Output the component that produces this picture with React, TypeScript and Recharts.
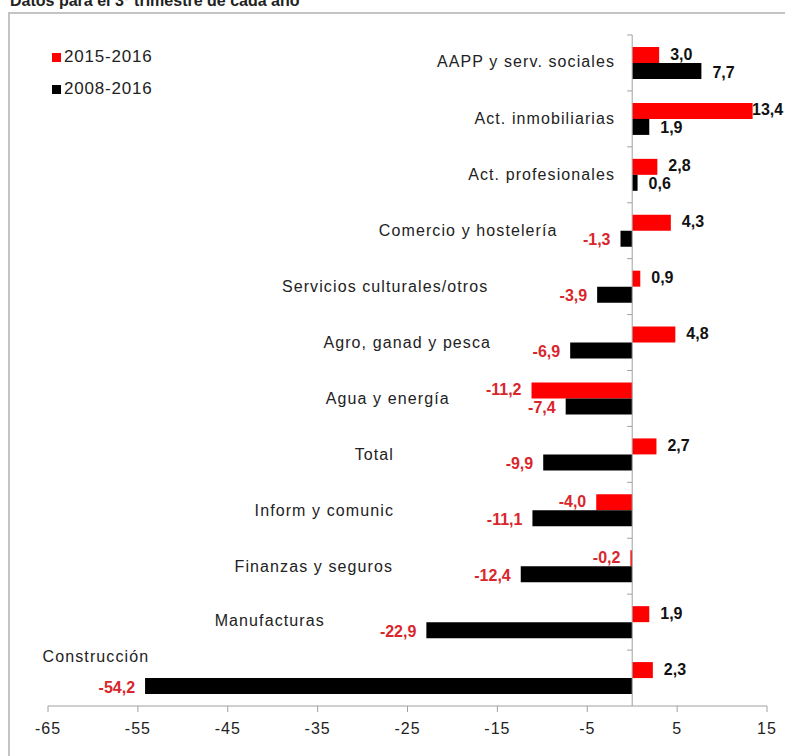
import React from "react";
import { Bar, BarChart, LabelList, Legend, ReferenceLine, XAxis, YAxis } from "recharts";

const CATEGORIES = [
  "AAPP y serv. sociales",
  "Act. inmobiliarias",
  "Act. profesionales",
  "Comercio y hostelería",
  "Servicios culturales/otros",
  "Agro, ganad y pesca",
  "Agua y energía",
  "Total",
  "Inform y comunic",
  "Finanzas y seguros",
  "Manufacturas",
  "Construcción",
];
const SERIES_NAMES = ["2015-2016", "2008-2016"];
const SERIES_2015 = [3.0, 13.4, 2.8, 4.3, 0.9, 4.8, -11.2, 2.7, -4.0, -0.2, 1.9, 2.3];
const SERIES_2008 = [7.7, 1.9, 0.6, -1.3, -3.9, -6.9, -7.4, -9.9, -11.1, -12.4, -22.9, -54.2];
const X_TICKS = [-65, -55, -45, -35, -25, -15, -5, 5, 15];

// where each category label sits (axis units for the anchor, px for the vertical nudge)
const LABEL_LAYOUT = [
  { at: -1.9, anchor: "end", dy: -1 },
  { at: -1.9, anchor: "end", dy: 0 },
  { at: -1.9, anchor: "end", dy: 0 },
  { at: -8.3, anchor: "end", dy: 0 },
  { at: -16.0, anchor: "end", dy: 0 },
  { at: -15.7, anchor: "end", dy: 0 },
  { at: -20.3, anchor: "end", dy: 0 },
  { at: -26.5, anchor: "end", dy: 0 },
  { at: -26.5, anchor: "end", dy: 0 },
  { at: -26.6, anchor: "end", dy: 0 },
  { at: -34.2, anchor: "end", dy: -2 },
  { at: -65.6, anchor: "start", dy: -22 },
];

const data = CATEGORIES.map((name, i) => ({
  name,
  v2015: SERIES_2015[i],
  v2008: SERIES_2008[i],
}));

const W = 785;
const H = 756;
const MARGIN = { top: 35, right: 18, bottom: 20, left: 0 };
const Y_AXIS_W = 48;
const X_AXIS_H = 30;
const PLOT_LEFT = MARGIN.left + Y_AXIS_W;
const PLOT_W = W - PLOT_LEFT - MARGIN.right;
const PLOT_H = H - MARGIN.top - MARGIN.bottom - X_AXIS_H;
const BAND = PLOT_H / CATEGORIES.length;
const X_MIN = -65;
const X_MAX = 15;
const toPx = (v: number) => PLOT_LEFT + ((v - X_MIN) / (X_MAX - X_MIN)) * PLOT_W;

const FONT = "'Liberation Sans', Arial, sans-serif";
const RED = "#ff0000";
const NEG_TEXT = "#d9262c";
const AXIS = "#a0a0a0";

const fmt = (v: number) => v.toFixed(1).replace(".", ",");

function CategoryTick(props: any) {
  const { y, payload, index } = props;
  const layout = LABEL_LAYOUT[index] ?? { at: -2, anchor: "end", dy: 0 };
  const zero = toPx(0);
  const top = y - BAND / 2;
  return (
    <g>
      <line x1={zero - 5} y1={top} x2={zero} y2={top} stroke={AXIS} />
      <text
        x={toPx(layout.at)}
        y={y + layout.dy}
        textAnchor={layout.anchor}
        dominantBaseline="central"
        fontFamily={FONT}
        fontSize={16}
        letterSpacing={1.1}
        fill="#222"
      >
        {payload.value}
      </text>
    </g>
  );
}

function valueLabel(shiftY: number) {
  return (props: any) => {
    const { x, y, width, height, value } = props;
    const v = Number(value);
    const a = Number(x);
    const b = Number(x) + Number(width);
    const cy = Number(y) + Number(height) / 2 + shiftY;
    const neg = v < 0;
    const end = neg ? Math.min(a, b) : Math.max(a, b);
    const tx = neg ? end - 10 : Math.min(end + 11, toPx(X_MAX) - 15);
    return (
      <text
        x={tx}
        y={cy}
        textAnchor={neg ? "end" : "start"}
        dominantBaseline="central"
        fontFamily={FONT}
        fontSize={16}
        fontWeight="bold"
        fill={neg ? NEG_TEXT : "#111"}
      >
        {fmt(v)}
      </text>
    );
  };
}

function LegendContent(props: any) {
  const { payload = [] } = props;
  const items = [...payload].sort(
    (p: any, q: any) => SERIES_NAMES.indexOf(p.value) - SERIES_NAMES.indexOf(q.value)
  );
  return (
    <div style={{ fontFamily: FONT, fontSize: 17, color: "#222", letterSpacing: 0.8 }}>
      {items.map((entry: any) => (
        <div key={entry.value} style={{ display: "flex", alignItems: "center", height: 32 }}>
          <span style={{ width: 9, height: 9, background: entry.color, marginRight: 3 }} />
          <span>{entry.value}</span>
        </div>
      ))}
    </div>
  );
}

export default function App() {
  return (
    <div
      style={{
        position: "absolute",
        left: 0,
        top: 0,
        width: W,
        height: H,
        overflow: "hidden",
        background: "#fff",
      }}
    >
      <div
        style={{
          position: "absolute",
          left: 10,
          top: -7,
          fontFamily: FONT,
          fontSize: 16,
          lineHeight: "16px",
          fontWeight: "bold",
          color: "#222",
          whiteSpace: "nowrap",
        }}
      >
        Datos para el 3º trimestre de cada año
      </div>
      <div
        style={{
          position: "absolute",
          left: 8,
          top: 12,
          width: 820,
          height: 820,
          border: "2px solid #c4c4c4",
        }}
      />
      <div style={{ position: "absolute", left: 0, top: 0 }}>
        <BarChart
          width={W}
          height={H}
          data={data}
          layout="vertical"
          margin={MARGIN}
          barSize={16}
          barGap={0}
        >
          <XAxis
            type="number"
            domain={[X_MIN, X_MAX]}
            ticks={X_TICKS}
            height={X_AXIS_H}
            stroke={AXIS}
            tickSize={6}
            tickMargin={11}
            tick={{ fill: "#222", fontSize: 16, fontFamily: FONT, letterSpacing: 1 }}
            allowDataOverflow
          />
          <YAxis
            type="category"
            dataKey="name"
            width={Y_AXIS_W}
            axisLine={false}
            tickLine={false}
            tick={<CategoryTick />}
            interval={0}
          />
          <ReferenceLine x={0} stroke={AXIS} />
          <Legend
            layout="vertical"
            align="center"
            verticalAlign="middle"
            content={<LegendContent />}
            wrapperStyle={{ left: 52, top: 41, width: 200, height: 70 }}
          />
          <Bar dataKey="v2015" name={SERIES_NAMES[0]} fill={RED} isAnimationActive={false}>
            <LabelList dataKey="v2015" content={valueLabel(-1)} />
          </Bar>
          <Bar dataKey="v2008" name={SERIES_NAMES[1]} fill="#000" isAnimationActive={false}>
            <LabelList dataKey="v2008" content={valueLabel(1)} />
          </Bar>
        </BarChart>
      </div>
    </div>
  );
}
